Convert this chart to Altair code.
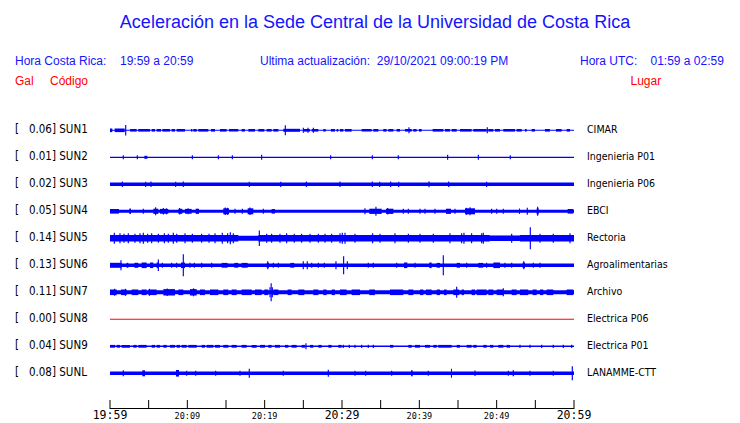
import altair as alt
import pandas as pd

# ---------------- text content ----------------
TITLE = "Aceleración en la Sede Central de la Universidad de Costa Rica"
HORA_CR_LABEL = "Hora Costa Rica:"
HORA_CR = "19:59 a 20:59"
ACTUALIZACION = "Ultima actualización:\u00a0\u00a029/10/2021 09:00:19 PM"
HORA_UTC_LABEL = "Hora UTC:"
HORA_UTC = "01:59 a 02:59"
COL_GAL = "Gal"
COL_CODIGO = "Código"
COL_LUGAR = "Lugar"

STATIONS = ["SUN1", "SUN2", "SUN3", "SUN4", "SUN5", "SUN6", "SUN7", "SUN8", "SUN9", "SUNL"]
PEAK_GAL = [0.06, 0.01, 0.02, 0.05, 0.14, 0.13, 0.11, 0.00, 0.04, 0.08]
PLACES = ["CIMAR", "Ingenieria P01", "Ingenieria P06", "EBCI", "Rectoria",
          "Agroalimentarias", "Archivo", "Electrica P06", "Electrica P01", "LANAMME-CTT"]

# time axis (minutes after 19:59)
TICK_MINUTES = [0, 5, 10, 15, 20, 25, 30, 35, 40, 45, 50, 55, 60]
BIG_LABEL_MINUTES = [0, 30, 60]
BIG_LABELS = ["19:59", "20:29", "20:59"]
SMALL_LABEL_MINUTES = [10, 20, 40, 50]
SMALL_LABELS = ["20:09", "20:19", "20:39", "20:49"]

# ---------------- trace envelopes (relative amplitude) ----------------
# base noise level, bursts (t0, t1, amp), spikes (t, amp); t in minutes
SUN1_BASE = 0.5
SUN1_BURSTS = [(0.0, 0.3, 1.8), (0.6, 1.9, 1.8), (2.6, 3.45, 1.3), (3.66, 5.17, 1.3), (5.39, 5.82, 1.3),
               (6.03, 6.59, 1.3), (6.77, 7.76, 1.3), (7.97, 8.40, 1.3), (8.62, 9.70, 1.3), (10.47, 10.65, 1.3),
               (10.78, 11.21, 1.3), (11.42, 12.71, 1.3), (13.06, 13.58, 1.3), (14.22, 15.08, 1.3),
               (15.39, 16.59, 1.3), (17.02, 17.45, 1.3), (17.89, 18.75, 1.3), (19.18, 19.95, 1.3),
               (20.26, 20.90, 1.3), (21.12, 21.77, 1.3), (22.41, 24.57, 1.5), (25.0, 25.86, 1.3),
               (26.08, 26.94, 1.3), (27.58, 27.89, 1.3), (28.57, 29.09, 1.3), (29.31, 29.52, 1.3),
               (29.74, 30.17, 1.3), (30.39, 31.25, 1.3), (32.54, 33.83, 1.3), (34.05, 34.70, 1.3),
               (35.34, 35.77, 1.3), (35.99, 36.64, 1.3), (37.07, 37.50, 1.3), (38.14, 39.01, 1.3),
               (39.22, 39.65, 1.3), (39.95, 40.30, 1.3), (41.72, 43.10, 1.3), (43.32, 43.96, 1.3),
               (44.18, 44.83, 1.3), (45.26, 46.76, 1.3), (46.98, 48.70, 1.3), (48.92, 49.57, 1.3),
               (49.78, 50.43, 1.3), (50.86, 52.37, 1.3), (52.58, 53.23, 1.3), (53.66, 53.88, 1.3),
               (54.52, 54.95, 1.3), (56.25, 56.89, 1.3), (57.67, 58.40, 1.3), (59.05, 59.48, 1.3)]
SUN1_SPIKES = [(2.03, 5.3), (22.67, 5.0), (25.0, 2.5), (25.6, 2.5), (26.3, 2.5), (38.66, 3.0), (48.79, 3.0)]

SUN2_BASE = 0.6
SUN2_BURSTS = [(4.44, 4.83, 1.5)]
SUN2_SPIKES = [(1.72, 2.0), (3.53, 2.0), (10.65, 2.0), (14.01, 2.0), (15.82, 2.0), (19.61, 2.5),
               (28.53, 2.0), (33.92, 2.0), (37.28, 2.0), (43.66, 2.5), (47.63, 2.5), (51.76, 2.0)]

SUN3_BASE = 1.7
SUN3_BURSTS = []
SUN3_SPIKES = [(1.59, 2.8), (4.61, 2.6), (5.30, 2.8), (8.49, 2.6), (9.48, 2.8), (18.01, 2.6), (22.07, 2.6),
               (25.39, 2.8), (29.74, 2.8), (33.92, 2.8), (34.87, 2.6), (36.29, 2.8), (37.33, 2.6),
               (41.25, 3.0), (43.79, 2.8), (48.70, 2.6)]

SUN4_BASE = 1.5
SUN4_BURSTS = [(0.0, 1.16, 2.3), (2.50, 2.71, 2.8), (5.60, 6.25, 2.6), (6.46, 7.54, 2.4), (8.84, 9.35, 2.5),
               (9.70, 10.56, 2.4), (11.08, 11.51, 2.6), (14.65, 15.39, 3.0), (17.80, 18.53, 3.0),
               (20.90, 21.33, 2.3), (33.53, 35.13, 2.6), (35.69, 36.64, 2.6), (43.45, 44.09, 2.6),
               (45.90, 47.20, 3.0), (52.88, 53.01, 2.8), (55.17, 55.43, 3.0), (59.18, 59.91, 2.3)]
SUN4_SPIKES = [(4.31, 2.5), (5.90, 4.0), (6.9, 3.3), (7.3, 3.0), (9.0, 3.2), (10.1, 3.0), (14.9, 3.8),
               (15.2, 3.5), (16.16, 2.5), (17.11, 2.5), (18.1, 3.8), (19.83, 2.5), (32.97, 3.0), (34.39, 4.5),
               (35.9, 3.2), (37.93, 2.5), (38.58, 2.5), (40.08, 2.5), (40.73, 2.5), (42.02, 2.5), (44.61, 2.5),
               (46.1, 3.5), (46.55, 4.0), (49.35, 2.5), (50.0, 2.5), (50.86, 2.5), (53.96, 3.5), (55.30, 4.5)]

SUN5_BASE = 2.5
SUN5_BURSTS = [(0.0, 16.6, 3.2), (19.2, 49.1, 3.2), (49.1, 53.0, 2.7), (53.0, 60.0, 3.2)]
SUN5_SPIKES = [(0.56, 5.5), (1.29, 5.0), (1.81, 4.5), (2.37, 5.0), (3.23, 4.5), (3.88, 5.0), (4.31, 5.5),
               (4.87, 4.5), (5.39, 5.0), (6.25, 4.5), (7.03, 5.0), (7.54, 4.5), (8.19, 5.5), (8.62, 4.5),
               (9.70, 5.0), (10.65, 4.5), (11.85, 4.5), (12.80, 4.5), (13.58, 5.0), (14.52, 5.5),
               (15.21, 5.0), (15.56, 6.0), (15.95, 5.0), (19.31, 7.7), (20.26, 4.5), (20.90, 4.5),
               (21.98, 4.5), (22.84, 5.0), (23.83, 4.5), (24.78, 4.5), (25.86, 4.5), (26.94, 4.5),
               (27.80, 4.5), (28.66, 4.5), (29.74, 5.0), (30.04, 5.5), (30.39, 5.5), (31.68, 4.5),
               (33.96, 5.0), (34.91, 4.5), (36.85, 5.0), (38.58, 4.5), (40.08, 4.5), (41.81, 4.5),
               (43.96, 5.0), (45.47, 5.0), (45.77, 5.5), (46.76, 5.0), (48.06, 5.0), (48.27, 5.5),
               (51.94, 4.5), (54.35, 11.0), (55.60, 4.5), (57.32, 4.5), (59.48, 5.0)]

SUN6_BASE = 1.7
SUN6_BURSTS = [(0.0, 1.51, 2.5), (2.15, 2.37, 2.5), (3.15, 3.66, 2.5), (4.09, 4.74, 2.8), (5.17, 5.60, 2.8),
               (6.03, 6.33, 2.8), (9.18, 9.70, 2.8), (14.44, 15.21, 2.4), (16.08, 16.59, 2.4),
               (17.02, 17.80, 2.4), (20.26, 20.56, 2.5), (23.32, 23.83, 2.4), (38.02, 38.45, 2.8),
               (41.29, 41.59, 2.8), (42.24, 42.67, 2.4), (44.83, 45.26, 2.4), (47.63, 48.27, 2.4),
               (49.57, 50.43, 2.8), (53.36, 53.66, 2.8)]
SUN6_SPIKES = [(1.42, 5.0), (6.25, 5.8), (6.77, 2.5), (7.97, 2.5), (8.62, 2.5), (9.48, 11.0), (10.34, 2.5),
               (10.90, 2.5), (11.85, 2.5), (13.15, 2.5), (20.40, 4.0), (21.12, 2.5), (21.77, 2.5),
               (24.99, 4.0), (25.51, 4.0), (26.08, 2.5), (26.94, 2.5), (27.71, 2.5), (29.22, 4.0),
               (30.21, 9.0), (30.69, 4.0), (33.40, 2.5), (34.05, 2.5), (37.07, 2.5), (39.44, 2.5),
               (43.10, 10.0), (46.12, 2.5), (48.70, 2.5), (51.07, 2.5), (51.94, 2.5), (53.50, 4.0),
               (54.74, 2.5), (55.60, 2.5)]

SUN7_BASE = 2.0
SUN7_BURSTS = [(0.0, 0.86, 2.8), (1.42, 2.15, 2.8), (2.80, 3.66, 2.8), (4.09, 4.74, 2.8), (4.96, 6.03, 2.8),
               (6.90, 8.40, 3.2), (8.84, 9.48, 2.8), (10.34, 11.21, 3.2), (11.64, 12.28, 2.8),
               (12.93, 14.01, 2.8), (14.65, 15.30, 2.8), (15.73, 16.38, 2.8), (17.02, 18.32, 2.8),
               (18.75, 19.61, 2.8), (19.95, 20.47, 2.8), (21.12, 21.77, 2.8), (22.97, 23.49, 2.8),
               (24.35, 25.13, 2.8), (26.29, 26.94, 2.8), (27.58, 28.01, 2.8), (28.66, 29.09, 2.8),
               (29.74, 30.60, 2.8), (31.25, 32.33, 2.8), (33.53, 34.27, 2.8), (36.21, 37.93, 2.8),
               (38.58, 39.22, 2.8), (40.08, 40.52, 2.8), (40.86, 41.59, 2.8), (42.24, 42.67, 2.8),
               (43.19, 43.53, 2.8), (44.39, 45.17, 2.8), (45.47, 45.77, 2.8), (46.76, 47.20, 2.8),
               (47.41, 48.70, 2.8), (48.92, 49.57, 2.8), (50.0, 50.86, 2.8), (51.94, 52.58, 2.8),
               (53.01, 54.09, 2.8), (54.65, 55.17, 2.8), (55.60, 56.03, 2.8), (56.46, 57.32, 2.8),
               (59.05, 59.91, 2.8)]
SUN7_SPIKES = [(0.6, 3.5), (2.0, 3.5), (5.1, 3.5), (7.4, 3.8), (10.8, 4.0), (20.84, 9.0), (20.69, 5.0),
               (20.99, 5.0), (44.83, 5.5), (50.86, 4.0)]

SUN8_BASE = 0.5
SUN8_BURSTS = []
SUN8_SPIKES = []

SUN9_BASE = 0.7
SUN9_BURSTS = [(0.0, 0.65, 1.4), (0.86, 1.29, 1.4), (1.51, 2.58, 1.4), (3.02, 3.45, 1.4), (3.66, 4.74, 1.4),
               (5.39, 5.82, 1.4), (6.03, 6.46, 1.4), (6.90, 7.33, 1.4), (7.76, 8.40, 1.4), (8.62, 9.05, 1.4),
               (9.27, 9.91, 1.4), (10.13, 11.21, 1.4), (11.85, 12.28, 1.4), (12.50, 13.36, 1.4),
               (13.58, 14.22, 1.4), (14.65, 15.30, 1.4), (15.73, 16.38, 1.4), (17.02, 17.67, 1.4),
               (18.32, 18.96, 1.4), (19.40, 20.04, 1.4), (20.47, 20.90, 1.4), (21.33, 21.98, 1.4),
               (22.63, 23.06, 1.4), (23.49, 24.14, 1.4), (24.78, 25.21, 1.4), (25.86, 26.29, 1.4),
               (26.94, 27.37, 1.4), (28.23, 28.66, 1.4), (29.52, 29.95, 1.4), (36.21, 36.64, 1.4),
               (38.58, 39.01, 1.4), (39.44, 40.08, 1.4), (40.73, 41.38, 1.4), (41.81, 42.24, 1.4),
               (42.45, 44.18, 1.4), (44.83, 45.26, 1.4), (46.12, 46.76, 1.4), (46.98, 47.41, 1.4),
               (48.27, 48.70, 1.4), (49.14, 49.57, 1.4), (50.21, 50.86, 1.4), (51.29, 51.72, 1.4)]
SUN9_SPIKES = [(25.34, 3.0), (30.17, 1.6), (30.95, 1.6), (31.68, 1.6), (32.54, 1.6), (33.40, 1.6),
               (34.05, 1.6), (53.01, 1.6), (54.31, 1.6), (55.82, 1.6), (57.32, 1.6), (58.62, 1.6),
               (59.70, 1.6)]

SUNL_BASE = 1.7
SUNL_BURSTS = [(4.18, 4.53, 3.0), (8.53, 8.92, 3.3), (38.92, 39.14, 3.0), (44.09, 44.22, 4.5),
               (52.07, 52.24, 3.0)]
SUNL_SPIKES = [(1.72, 3.0), (9.91, 2.5), (11.08, 2.5), (13.66, 2.5), (16.81, 2.5), (18.01, 4.5),
               (22.41, 2.5), (28.23, 3.5), (31.68, 2.5), (33.06, 2.5), (36.42, 2.5), (41.16, 2.5),
               (47.20, 2.7), (51.51, 2.5), (54.31, 2.5), (57.32, 2.5), (59.78, 7.0)]

ENVELOPES = {
    "SUN1": (SUN1_BASE, SUN1_BURSTS, SUN1_SPIKES),
    "SUN2": (SUN2_BASE, SUN2_BURSTS, SUN2_SPIKES),
    "SUN3": (SUN3_BASE, SUN3_BURSTS, SUN3_SPIKES),
    "SUN4": (SUN4_BASE, SUN4_BURSTS, SUN4_SPIKES),
    "SUN5": (SUN5_BASE, SUN5_BURSTS, SUN5_SPIKES),
    "SUN6": (SUN6_BASE, SUN6_BURSTS, SUN6_SPIKES),
    "SUN7": (SUN7_BASE, SUN7_BURSTS, SUN7_SPIKES),
    "SUN8": (SUN8_BASE, SUN8_BURSTS, SUN8_SPIKES),
    "SUN9": (SUN9_BASE, SUN9_BURSTS, SUN9_SPIKES),
    "SUNL": (SUNL_BASE, SUNL_BURSTS, SUNL_SPIKES),
}

# ---------------- layout constants ----------------
W, H = 464, 401
GAIN = 1 / 27.0           # amplitude unit -> trace spacing
SPIKE_HALF_W = 0.075      # minutes
Y_DOMAIN = [-122.3 / 27.0, (401 - 122.3) / 27.0]
BLUE = "#0000FF"
TEXT_BLUE = "#1414FF"
RED = "#FF0000"

yscale = alt.Scale(domain=Y_DOMAIN, reverse=True, nice=False, zero=False)
xscale = alt.Scale(domain=[0, 60], nice=False, zero=False)

rows = []
for i, st in enumerate(STATIONS):
    base, bursts, spikes = ENVELOPES[st]
    status = "sin datos" if PEAK_GAL[i] == 0 else "ok"
    segs = [(0.0, 60.0, base)] + list(bursts) + [(t - SPIKE_HALF_W, t + SPIKE_HALF_W, a) for t, a in spikes]
    for t0, t1, a in segs:
        rows.append({"station": st, "status": status, "t0": t0, "t1": t1,
                     "lo": i - a * GAIN, "hi": i + a * GAIN})
traces_df = pd.DataFrame(rows)

traces = alt.Chart(traces_df).mark_rect(strokeWidth=0).encode(
    x=alt.X("t0:Q", scale=xscale, axis=None),
    x2="t1:Q",
    y=alt.Y("lo:Q", scale=yscale, axis=None),
    y2="hi:Q",
    color=alt.Color("status:N", scale=alt.Scale(domain=["ok", "sin datos"], range=[BLUE, RED]), legend=None),
)

labels_df = pd.DataFrame({
    "row": list(range(len(STATIONS))),
    "left": ["[\u00a0\u00a0\u00a0%.2f] %s" % (g, s) for g, s in zip(PEAK_GAL, STATIONS)],
    "place": PLACES,
})
left_labels = alt.Chart(labels_df).mark_text(
    align="left", baseline="middle", font="DejaVu Sans Condensed", fontSize=11.5, color="black"
).encode(x=alt.value(-95), y=alt.Y("row:Q", scale=yscale, axis=None), text="left:N")
right_labels = alt.Chart(labels_df).mark_text(
    align="left", baseline="middle", font="DejaVu Sans Condensed", fontSize=10.5, color="black"
).encode(x=alt.value(477), y=alt.Y("row:Q", scale=yscale, axis=None), text="place:N")

# time axis
axis_line = alt.Chart(pd.DataFrame({"a": [0], "b": [60]})).mark_rule(color="black", strokeWidth=1).encode(
    x=alt.X("a:Q", scale=xscale, axis=None), x2="b:Q", y=alt.value(400.5))
ticks = alt.Chart(pd.DataFrame({"m": TICK_MINUTES})).mark_rule(color="black", strokeWidth=1).encode(
    x=alt.X("m:Q", scale=xscale, axis=None), y=alt.value(392), y2=alt.value(401))
big_lbl = alt.Chart(pd.DataFrame({"m": BIG_LABEL_MINUTES, "t": BIG_LABELS})).mark_text(
    align="center", baseline="middle", font="DejaVu Sans Mono", fontSize=11.5, color="black"
).encode(x=alt.X("m:Q", scale=xscale, axis=None), y=alt.value(408), text="t:N")
small_lbl = alt.Chart(pd.DataFrame({"m": SMALL_LABEL_MINUTES, "t": SMALL_LABELS})).mark_text(
    align="center", baseline="middle", font="DejaVu Sans Mono", fontSize=8.5, color="black"
).encode(x=alt.X("m:Q", scale=xscale, axis=None), y=alt.value(407.5), text="t:N")


def header(text, x, y, size=12, color=TEXT_BLUE, align="left"):
    return alt.Chart(pd.DataFrame({"t": [text]})).mark_text(
        align=align, baseline="middle", font="Liberation Sans", fontSize=size, color=color
    ).encode(x=alt.value(x), y=alt.value(y), text="t:N")


headers = [
    header(TITLE, 265, 15, size=18, align="center"),
    header(HORA_CR_LABEL, -95, 53),
    header(HORA_CR, 10, 53),
    header(ACTUALIZACION, 150, 53),
    header(HORA_UTC_LABEL, 470, 53),
    header(HORA_UTC, 540.5, 53),
    header(COL_GAL, -95, 73, color=RED),
    header(COL_CODIGO, -60, 73, color=RED),
    header(COL_LUGAR, 520.5, 73, color=RED),
]

chart = alt.layer(traces, left_labels, right_labels, axis_line, ticks, big_lbl, small_lbl, *headers).properties(
    width=W, height=H,
    padding={"left": 102, "top": 0, "right": 158, "bottom": 14},
    autosize=alt.AutoSizeParams(type="none"),
    background="white",
).configure_view(stroke=None)

chart.save("out.html", embed_options={"renderer": "svg", "actions": False})
